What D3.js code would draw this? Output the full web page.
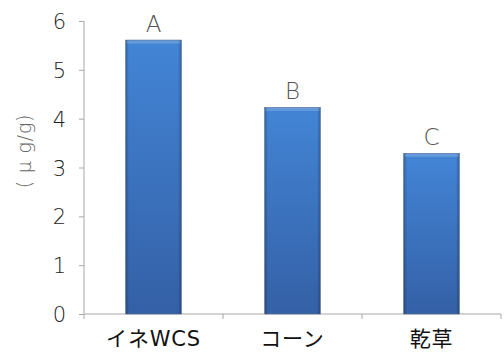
<!DOCTYPE html>
<html><head><meta charset="utf-8">
<script src="https://cdn.jsdelivr.net/npm/d3@7"></script>
<style>body{margin:0;background:#fff}svg{display:block}</style>
</head><body>
<script>
const categories = ["イネWCS", "コーン", "乾草"];
const values = [5.61, 4.23, 3.29];
const letters = ["A", "B", "C"];
const yTicks = [0, 1, 2, 3, 4, 5, 6];
const yLabel = "( μ g/g)";

const W = 504, H = 353;
const m = {left: 84, right: 3, top: 21, bottom: 39};
const svg = d3.select("body").append("svg").attr("width", W).attr("height", H);
const font = "'DejaVu Sans', 'Noto Sans CJK JP', sans-serif";

const x = d3.scaleBand().domain(categories).range([m.left, W - m.right]).paddingInner(0.6).paddingOuter(0.3);
const y = d3.scaleLinear().domain([0, 6]).range([H - m.bottom, m.top]);

const defs = svg.append("defs");
const gv = defs.append("linearGradient").attr("id", "gv").attr("x1", 0).attr("y1", 0).attr("x2", 0).attr("y2", 1);
gv.append("stop").attr("offset", 0).attr("stop-color", "#4385d6");
gv.append("stop").attr("offset", 1).attr("stop-color", "#3460a6");
const gh = defs.append("linearGradient").attr("id", "gh").attr("x1", 0).attr("y1", 0).attr("x2", 1).attr("y2", 0);
gh.append("stop").attr("offset", 0).attr("stop-color", "#000").attr("stop-opacity", 0.25);
gh.append("stop").attr("offset", 0.06).attr("stop-color", "#000").attr("stop-opacity", 0);
gh.append("stop").attr("offset", 0.94).attr("stop-color", "#000").attr("stop-opacity", 0);
gh.append("stop").attr("offset", 1).attr("stop-color", "#000").attr("stop-opacity", 0.25);

// axes
const yAxis = svg.append("g").attr("transform", `translate(${m.left},0)`)
  .call(d3.axisLeft(y).tickValues(yTicks).tickSize(5).tickPadding(13).tickFormat(d3.format("d")));
yAxis.select(".domain").attr("stroke", "#a8a8a8").attr("d", `M0,${y(6)}V${y(0)}`);
yAxis.selectAll(".tick line").attr("stroke", "#a8a8a8");
yAxis.selectAll(".tick text").attr("font-family", font).attr("font-size", 21).attr("fill", "#222")
  .attr("font-weight", 200).attr("dy", "0.36em");

const bounds = [m.left, ...categories.map(c => x(c) + x.bandwidth() + x.step() * x.paddingInner() / 2)];
bounds[bounds.length - 1] = W - m.right;
const xg = svg.append("g");
xg.append("line").attr("x1", m.left).attr("x2", W - m.right).attr("y1", y(0)).attr("y2", y(0)).attr("stroke", "#a8a8a8");
xg.selectAll("line.t").data(bounds).join("line").attr("class", "t")
  .attr("x1", d => d).attr("x2", d => d).attr("y1", y(0)).attr("y2", y(0) + 5).attr("stroke", "#a8a8a8");
xg.selectAll("text").data(categories).join("text")
  .attr("x", d => x(d) + x.bandwidth() / 2).attr("y", y(0) + 32)
  .attr("text-anchor", "middle").attr("font-family", font).attr("font-size", 21).attr("fill", "#111")
  .attr("letter-spacing", 0.8)
  .text(d => d);

// bars
const bars = svg.append("g").selectAll("g").data(categories).join("g");
bars.append("rect").attr("x", d => x(d)).attr("width", x.bandwidth())
  .attr("y", (d, i) => y(values[i])).attr("height", (d, i) => y(0) - y(values[i]))
  .attr("fill", "url(#gv)").attr("stroke", "#5a6f8c").attr("stroke-width", 0.6);
bars.append("rect").attr("x", d => x(d)).attr("width", x.bandwidth())
  .attr("y", (d, i) => y(values[i])).attr("height", (d, i) => y(0) - y(values[i]))
  .attr("fill", "url(#gh)");
bars.append("rect").attr("x", d => x(d) + 1).attr("width", x.bandwidth() - 2)
  .attr("y", (d, i) => y(values[i]) + 0.5).attr("height", 3)
  .attr("fill", "#fff").attr("opacity", 0.18);

// letters
svg.append("g").selectAll("text").data(categories).join("text")
  .attr("x", d => x(d) + x.bandwidth() / 2).attr("y", (d, i) => y(values[i]) - 8)
  .attr("text-anchor", "middle").attr("font-family", font).attr("font-size", 23).attr("fill", "#555")
  .attr("font-weight", 200)
  .text((d, i) => letters[i]);

// y label
svg.append("text").attr("transform", `translate(24,151) rotate(-90)`)
  .attr("text-anchor", "middle").attr("dominant-baseline", "central")
  .attr("font-family", font).attr("font-size", 19).attr("fill", "#666")
  .attr("font-weight", 200)
  .attr("letter-spacing", 0.8).text(yLabel);
</script>
</body></html>
